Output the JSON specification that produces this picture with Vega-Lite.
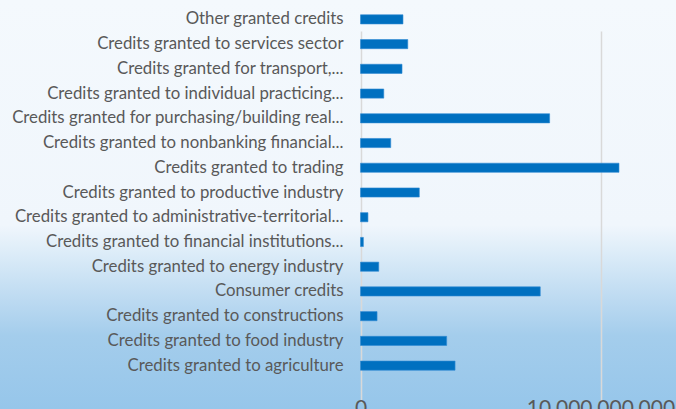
{
  "$schema": "https://vega.github.io/schema/vega-lite/v6.json",
  "width": 676,
  "height": 409,
  "autosize": {"type": "none"},
  "padding": 0,
  "background": "#f4f9fd",
  "view": {
    "stroke": null,
    "fill": {
      "gradient": "linear", "x1": 0, "y1": 0, "x2": 0, "y2": 1,
      "stops": [
        {"offset": 0, "color": "#f4f9fd"},
        {"offset": 0.55, "color": "#f0f6fc"},
        {"offset": 0.62, "color": "#dcecf8"},
        {"offset": 0.72, "color": "#c0dcf2"},
        {"offset": 0.82, "color": "#a4cdec"},
        {"offset": 1, "color": "#96c6ea"}
      ]
    }
  },
  "config": {"font": "Lato"},
  "data": {
    "values": [
      {"category": "Other granted credits\u00a0", "value": 1770000000},
      {"category": "Credits granted to services sector\u00a0", "value": 1970000000},
      {"category": "Credits granted for transport,...", "value": 1730000000},
      {"category": "Credits granted to individual practicing...", "value": 970000000},
      {"category": "Credits granted for purchasing/building real...", "value": 7880000000},
      {"category": "Credits granted to nonbanking financial...", "value": 1260000000},
      {"category": "Credits granted to trading\u00a0", "value": 10770000000},
      {"category": "Credits granted to productive industry\u00a0", "value": 2450000000},
      {"category": "Credits granted to administrative-territorial...", "value": 310000000},
      {"category": "Credits granted to financial institutions...", "value": 120000000},
      {"category": "Credits granted to energy industry\u00a0", "value": 760000000},
      {"category": "Consumer credits\u00a0", "value": 7490000000},
      {"category": "Credits granted to constructions\u00a0", "value": 690000000},
      {"category": "Credits granted to food industry\u00a0", "value": 3590000000},
      {"category": "Credits granted to agriculture\u00a0", "value": 3940000000}
    ]
  },
  "mark": {"type": "bar", "color": "#0070c0", "stroke": "#2f8ad4", "strokeWidth": 0.6},
  "encoding": {
    "y": {
      "field": "category", "type": "nominal", "sort": null,
      "scale": {"range": [7, 378], "paddingInner": 0.63, "paddingOuter": 0.315},
      "axis": {
        "title": null, "ticks": false, "domain": false, "grid": false,
        "offset": -360,
        "labelFontSize": 16.8, "labelColor": "#595959", "labelPadding": 17,
        "labelLimit": 0
      }
    },
    "x": {
      "field": "value", "type": "quantitative",
      "scale": {"domain": [0, 20000000000], "nice": false, "range": [360.5, 840.5]},
      "axis": {
        "title": null, "ticks": false, "domain": false,
        "offset": -31,
        "values": [0, 10000000000, 20000000000], "format": ",.0f",
        "grid": true, "gridColor": "#d9d9d9", "gridWidth": 1.5,
        "labelFontSize": 21, "labelColor": "#595959", "labelPadding": 19,
        "labelFlush": false, "labelOverlap": false
      }
    }
  }
}
